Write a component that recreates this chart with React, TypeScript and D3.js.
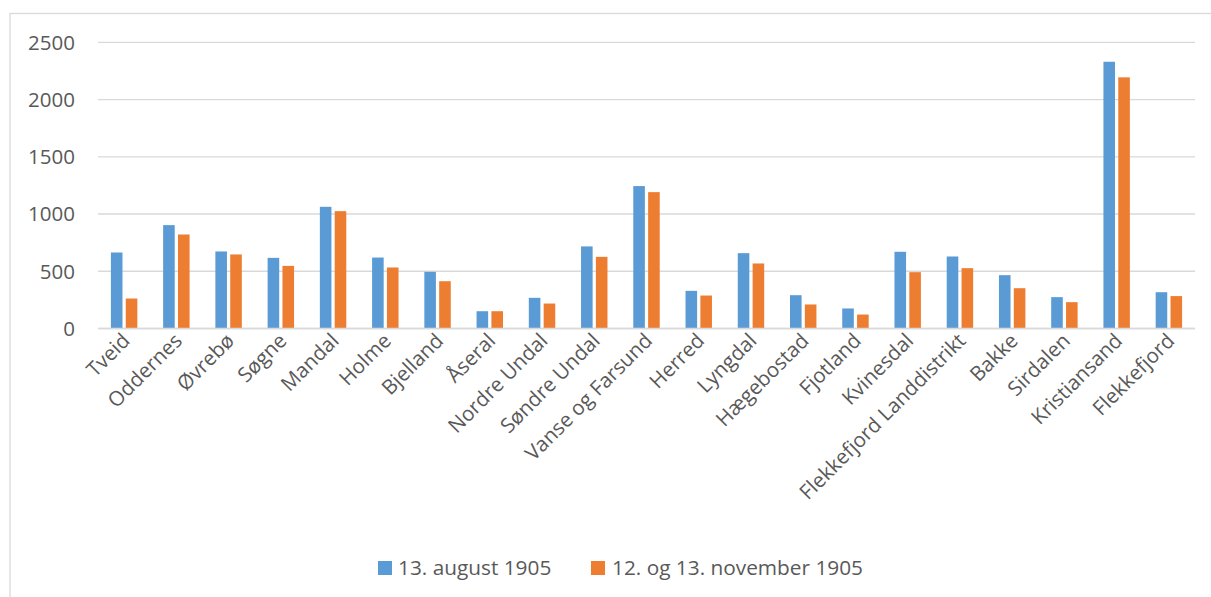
import React from "react";
import * as d3 from "d3";

const categories = [
  "Tveid", "Oddernes", "Øvrebø", "Søgne", "Mandal", "Holme", "Bjelland", "Åseral",
  "Nordre Undal", "Søndre Undal", "Vanse og Farsund", "Herred", "Lyngdal", "Hægebostad",
  "Fjotland", "Kvinesdal", "Flekkefjord Landdistrikt", "Bakke", "Sirdalen", "Kristiansand", "Flekkefjord",
];
const august1905 = [664, 903, 673, 617, 1063, 620, 495, 151, 268, 717, 1244, 329, 658, 291, 175, 670, 629, 466, 274, 2330, 317];
const november1905 = [262, 821, 647, 547, 1025, 533, 413, 151, 218, 626, 1191, 288, 568, 210, 122, 492, 527, 352, 230, 2194, 283];
const seriesNames = ["13. august 1905", "12. og 13. november 1905"];
const yTicks = [0, 500, 1000, 1500, 2000, 2500];

const colors = ["#5B9BD5", "#ED7D31"];
const FONT = "'Open Sans', sans-serif";
const TEXT = "#595959";

export default function App() {
  const W = 1211, H = 597;
  const left = 98, right = 1195, top = 42.3, bottom = 328.5;
  const x = d3.scaleBand<string>().domain(categories).range([left, right]).padding(0);
  const step = x.bandwidth();
  const x1 = d3.scaleBand<number>().domain([0, 1]).range([step * 0.247, step * 0.753]).paddingInner(0.22).paddingOuter(0);
  const y = d3.scaleLinear().domain([0, 2500]).range([bottom, top]);
  const series = [august1905, november1905];

  return (
    <svg width={W} height={H} style={{ position: "absolute", left: 0, top: 0, background: "#fff" }} fontFamily={FONT}>
      <rect x={10} y={13.5} width={1220} height={620} fill="#fff" stroke="#D9D9D9" strokeWidth={1.3} />
      {yTicks.map((t) => (
        <g key={t}>
          <line x1={left} x2={right} y1={y(t)} y2={y(t)} stroke="#D9D9D9" strokeWidth={1.3} />
          <text x={75} y={y(t)} dy="0.36em" textAnchor="end" fontSize={20.5} fill={TEXT}>{t}</text>
        </g>
      ))}
      {series.map((vals, si) =>
        vals.map((v, i) => (
          <rect
            key={`${si}-${i}`}
            x={(x(categories[i]) as number) + (x1(si) as number)}
            y={y(v)}
            width={x1.bandwidth()}
            height={y(0) - y(v)}
            fill={colors[si]}
          />
        ))
      )}
      <line x1={left} x2={right} y1={y(0)} y2={y(0)} stroke="#D9D9D9" strokeWidth={1.3} />
      {categories.map((c) => {
        const cx = (x(c) as number) + step / 2 + 7;
        const cy = 342;
        return (
          <text key={c} transform={`translate(${cx},${cy}) rotate(-45)`} textAnchor="end" fontSize={20.5} fill={TEXT}>
            {c}
          </text>
        );
      })}
      <g>
        <rect x={378} y={561} width={14} height={14} fill={colors[0]} />
        <text x={398} y={575} fontSize={20.8} fill={TEXT}>{seriesNames[0]}</text>
        <rect x={591} y={561} width={14} height={14} fill={colors[1]} />
        <text x={612} y={575} fontSize={20.8} fill={TEXT}>{seriesNames[1]}</text>
      </g>
    </svg>
  );
}
